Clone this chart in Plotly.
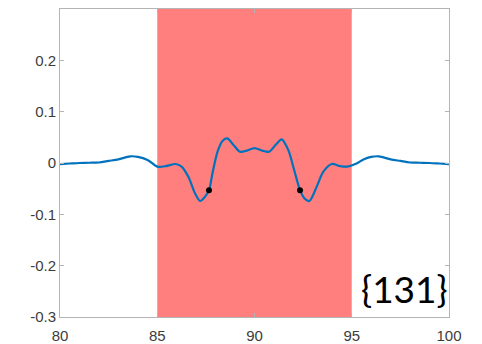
import plotly.graph_objects as go

# Sampled response curve
x_vals = [80.0, 80.5, 81.0, 81.5, 82.0, 82.5, 83.0, 83.6, 84.0, 84.5, 85.0, 85.45,
          85.95, 86.25, 86.6, 86.94, 87.2, 87.45, 87.66, 87.85, 88.1, 88.35, 88.6, 88.9,
          89.25, 89.6, 90.0,
          90.4, 90.75, 91.1, 91.4, 91.74, 92.05, 92.34, 92.55, 92.82, 93.2, 93.54, 93.97,
          94.4, 94.75, 95.25, 95.6, 96.0, 96.4, 97.0, 97.5, 98.0, 98.5, 99.0, 99.5, 100.0]
y_vals = [-0.002, -0.001, 0.0, 0.0005, 0.001, 0.004, 0.007, 0.013, 0.012, 0.006, -0.007, -0.006,
          -0.002, -0.007, -0.027, -0.059, -0.074, -0.066, -0.053, -0.018, 0.022, 0.043, 0.048, 0.036,
          0.022, 0.024, 0.029,
          0.024, 0.022, 0.036, 0.046, 0.025, -0.015, -0.053, -0.068, -0.074, -0.046, -0.017, -0.002,
          -0.006, -0.007, -0.001, 0.007, 0.012, 0.013, 0.007, 0.004, 0.001, 0.0005, 0.0, -0.001, -0.002]

# Highlighted points on the curve
dot_x = [87.66, 92.34]
dot_y = [-0.053, -0.053]

# Shaded band
band_x = [85, 95]

x_ticks = [80, 85, 90, 95, 100]
y_ticks = [-0.3, -0.2, -0.1, 0, 0.1, 0.2]
y_tick_text = ["-0.3", "-0.2", "-0.1", "0", "0.1", "0.2"]

label_text = "{131}"

fig = go.Figure()

fig.add_shape(type="rect", xref="x", yref="paper",
              x0=band_x[0], x1=band_x[1], y0=0, y1=1,
              fillcolor="rgb(255,127,127)", line_width=0, layer="below")

fig.add_trace(go.Scatter(x=x_vals, y=y_vals, mode="lines",
                         line=dict(color="#0072BD", width=2.2, shape="spline", smoothing=0.8),
                         hoverinfo="skip", showlegend=False))
fig.add_trace(go.Scatter(x=dot_x, y=dot_y, mode="markers",
                         marker=dict(color="black", size=6),
                         showlegend=False))

axis_common = dict(showgrid=False, zeroline=False, showline=True, linecolor="#b4b4b4",
                   linewidth=1, mirror="ticks", ticks="inside", ticklen=4,
                   tickcolor="#b4b4b4", automargin=False,
                   tickfont=dict(family="Liberation Sans, Arial, sans-serif", size=15,
                                 color="#3c3c3c"))

fig.update_xaxes(range=[80, 100], tickvals=x_ticks, ticklabelstandoff=5, **axis_common)
fig.update_yaxes(range=[-0.3, 0.3], tickvals=y_ticks, ticktext=y_tick_text, **axis_common)

fig.add_annotation(x=1.0, y=0.0, xref="paper", yref="paper",
                   xanchor="right", yanchor="bottom", xshift=1, yshift=4,
                   text=label_text, showarrow=False,
                   font=dict(family="Lato, sans-serif", size=37, color="black"))

fig.update_layout(width=482, height=344,
                  margin=dict(l=60, r=33, t=9, b=27),
                  plot_bgcolor="white", paper_bgcolor="white")

fig.write_html("out.html")
